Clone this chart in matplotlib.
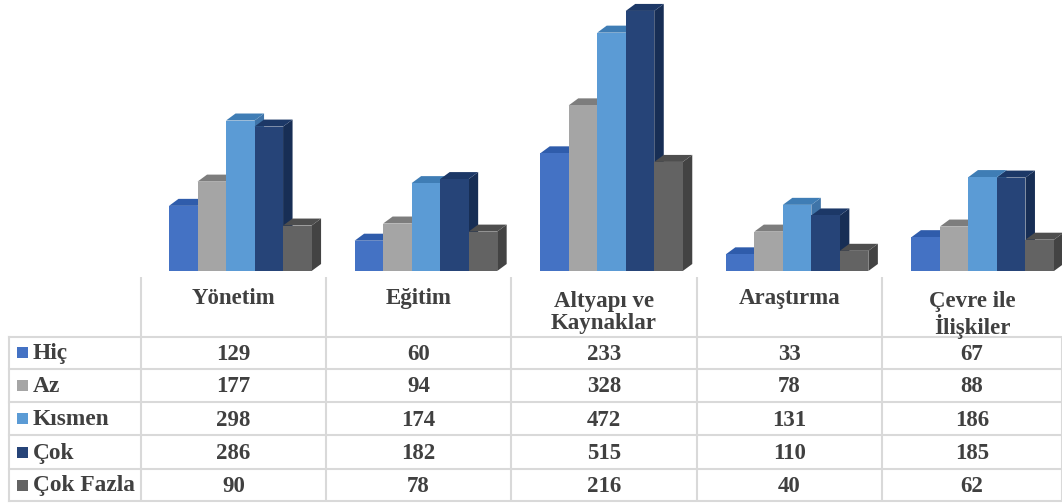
import matplotlib
matplotlib.use('Agg')
import matplotlib.pyplot as plt
from matplotlib.patches import Polygon, Rectangle

plt.rcParams['font.family'] = ['Liberation Serif', 'DejaVu Serif']

categories = ['Yönetim', 'Eğitim', 'Altyapı ve\nKaynaklar', 'Araştırma', 'Çevre ile\nİlişkiler']
series = ['Hiç', 'Az', 'Kısmen', 'Çok', 'Çok Fazla']
hic = [129, 60, 233, 33, 67]
az = [177, 94, 328, 78, 88]
kismen = [298, 174, 472, 131, 186]
cok = [286, 182, 515, 110, 185]
cok_fazla = [90, 78, 216, 40, 62]
values = [hic, az, kismen, cok, cok_fazla]

front = ['#4472c4', '#a5a5a5', '#5b9bd5', '#264478', '#636363']
top = ['#2f5cab', '#7d7d7d', '#3f7db5', '#1c3867', '#4e4e4e']
side = ['#31599f', '#7f7f7f', '#3f74a8', '#172e55', '#434343']

W, H = 1062, 504
fig = plt.figure(figsize=(W / 100, H / 100), dpi=100, facecolor='white')


def box(x0, y0, x1, y1):
    # pixel box (y from the top) to figure fraction
    return [x0 / W, 1 - y1 / H, (x1 - x0) / W, (y1 - y0) / H]


# table layer in pixels
tb = fig.add_axes([0, 0, 1, 1])
tb.set_xlim(0, W)
tb.set_ylim(H, 0)
tb.axis('off')

col_x = [141, 326, 511, 697, 882, 1062]
row_y = [336.5, 369, 402, 435, 469, 501]
grid = '#d9d9d9'
for i, x in enumerate(col_x):
    tb.plot([x, x], [277 if i < 5 else 336.5, 501], color=grid, lw=1.5, solid_capstyle='butt')
tb.plot([9, 9], [336.5, 501], color=grid, lw=1.5)
for y in row_y:
    tb.plot([9, 1062], [y, y], color=grid, lw=1.5)

txt = '#404040'
for i, name in enumerate(categories):
    cx = (col_x[i] + col_x[i + 1]) / 2
    y_head = 290.5 if '\n' in name else 288
    tb.text(cx, y_head, name, ha='center', va='top', fontsize=16.5, fontweight='bold',
            color=txt, linespacing=1.12)
for r, name in enumerate(series):
    cy = (row_y[r] + row_y[r + 1]) / 2
    tb.add_patch(Rectangle((17, cy - 5.5), 11, 11, color=front[r], lw=0))
    tb.text(33, cy + 1, name, ha='left', va='center', fontsize=16.8, fontweight='bold', color=txt)
    for i, v in enumerate(values[r]):
        cx = (col_x[i] + col_x[i + 1]) / 2
        tb.text(cx, cy + 1.5, str(v), ha='center', va='center', fontsize=16.5, fontweight='bold', color=txt)

# bars: one unit on x is one table column
ax = fig.add_axes(box(141, 0, 1062, 271))
ax.set_xlim(0, 921 / 185.6)
ax.set_ylim(0, 271 / 0.505)
ax.axis('off')
ax.patch.set_alpha(0)

width = 0.1536
start = 0.151
dx = 9.5 / 185.6
dy = 7 / 0.505

for r in range(len(series)):
    for i, v in enumerate(values[r]):
        x0 = i + start + r * width
        x1 = x0 + width
        ax.add_patch(Polygon([(x1, 0), (x1 + dx, dy), (x1 + dx, v + dy), (x1, v)], color=side[r], lw=0))
        ax.add_patch(Polygon([(x0, v), (x0 + dx, v + dy), (x1 + dx, v + dy), (x1, v)], color=top[r], lw=0))
        ax.bar(x0, v, width=width, align='edge', color=front[r], lw=0)

fig.savefig('out.png', dpi=100)
